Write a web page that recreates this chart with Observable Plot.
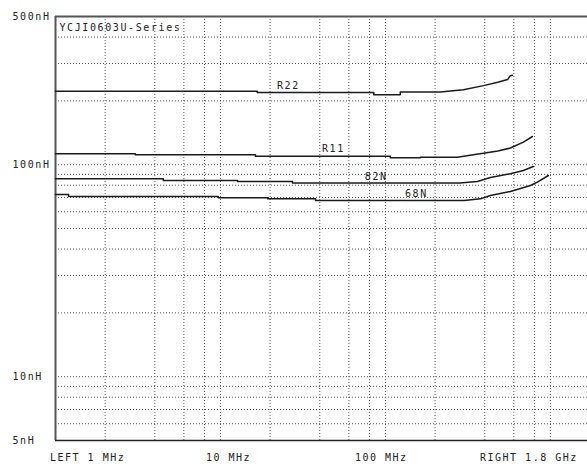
<!DOCTYPE html>
<html>
<head>
<meta charset="utf-8">
<script src="https://cdn.jsdelivr.net/npm/d3@7"></script>
<script src="https://cdn.jsdelivr.net/npm/@observablehq/plot@0.6"></script>
<style>
  body { margin: 0; background: #fff; }
  #wrap { position: relative; width: 587px; height: 466px; overflow: hidden; }
  .foot { position: absolute; top: 452px; font-family: "DejaVu Sans Mono", monospace; font-size: 10px; letter-spacing: 1.5px; color: #222; white-space: pre; }
</style>
</head>
<body>
<div id="wrap"></div>
<script>
// ---- data (frequency in MHz, inductance in nH) ----
const title = "YCJI0603U-Series";
const seriesNames = ["R22", "R11", "82N", "68N"];

const freqR22 = [1, 16.7, 16.7, 85, 85, 123, 123, 215, 297, 393, 480, 550, 572, 588];
const indR22  = [222, 222, 219, 219, 214, 214, 220, 220, 225.6, 236, 245, 252, 263, 264];

const freqR11 = [1, 3.05, 3.05, 16.3, 16.3, 107, 107, 163, 163, 273, 341, 393, 480, 572, 686, 778];
const indR11  = [112.5, 112.5, 111.4, 111.4, 109.6, 109.6, 107.8, 107.8, 108.5, 108.5, 111.4, 113.3, 116, 119.8, 127.7, 135.8];

const freq82N = [1, 4.5, 4.5, 12.7, 12.7, 27.3, 27.3, 283, 361, 433, 572, 686, 788];
const ind82N  = [85.8, 85.8, 84.2, 84.2, 83.3, 83.3, 82, 82, 83.3, 87.0, 90.6, 93.9, 98.0];

const freq68N = [1, 1.2, 1.2, 9.7, 9.7, 19.3, 19.3, 37.7, 37.7, 300, 377, 433, 572, 757, 834, 972];
const ind68N  = [72.3, 72.3, 70.8, 70.8, 69.8, 69.8, 69.0, 69.0, 67.8, 67.8, 69.0, 71.6, 74.7, 79.8, 82.7, 88.9];

// label anchor points for each curve name
const labelFreq = [25.8, 48.4, 88, 154];
const labelInd  = [224, 113, 83.5, 69.5];

const xGrid = [2, 4, 6, 8, 10, 20, 40, 60, 80, 100, 200, 400, 600, 800, 1000];
const yGrid = [6, 7, 8, 9, 10, 20, 30, 40, 50, 60, 70, 80, 90, 100, 200, 300, 400];
const yTicks = [5, 10, 100, 500];
const footLabels = ["LEFT 1 MHz", "10 MHz", "100 MHz", "RIGHT 1.8 GHz"];

// ---- build table ----
const freqs = [freqR22, freqR11, freq82N, freq68N];
const inds = [indR22, indR11, ind82N, ind68N];
const rows = [];
seriesNames.forEach((name, i) => {
  freqs[i].forEach((f, j) => rows.push({series: name, f, L: inds[i][j]}));
});
const labels = seriesNames.map((name, i) => ({name, f: labelFreq[i], L: labelInd[i]}));

const font = "'DejaVu Sans Mono', monospace";

const chart = Plot.plot({
  width: 587,
  height: 466,
  marginLeft: 55,
  marginRight: 0,
  marginTop: 16,
  marginBottom: 26,
  style: {fontFamily: font, fontSize: "10px", letterSpacing: "1.6px", color: "#222", background: "#fff", overflow: "visible"},
  x: {type: "log", domain: [1, 1800], range: [55, 592], axis: null},
  y: {type: "log", domain: [5, 500], axis: null},
  marks: [
    Plot.ruleX(xGrid, {stroke: "#555", strokeWidth: 1, strokeDasharray: "1,2"}),
    Plot.ruleY(yGrid, {stroke: "#555", strokeWidth: 1, strokeDasharray: "1,2"}),
    Plot.axisY(yTicks, {
      tickSize: 0, tickPadding: 43, textAnchor: "start", label: null,
      tickFormat: d => d + "nH", fontSize: 10
    }),
    Plot.ruleX([1], {stroke: "#555", strokeWidth: 2}),
    Plot.ruleY([500], {stroke: "#555", strokeWidth: 2}),
    Plot.ruleY([5], {stroke: "#222", strokeWidth: 1.5}),
    Plot.line(rows, {x: "f", y: "L", z: "series", stroke: "#1a1a1a", strokeWidth: 1.5}),
    Plot.text(labels, {x: "f", y: "L", text: "name", textAnchor: "middle", lineAnchor: "bottom", dy: -1, fill: "#222", fontSize: 10}),
    Plot.text([title], {frameAnchor: "top-left", dx: 4, dy: 7, fill: "#222", fontSize: 10, lineAnchor: "top", letterSpacing: "2.3px"})
  ]
});

const wrap = document.getElementById("wrap");
wrap.appendChild(chart);
const footLeft = [50, 206, 355, 480];
footLabels.forEach((t, i) => {
  const s = document.createElement("span");
  s.className = "foot";
  s.style.left = footLeft[i] + "px";
  s.textContent = t;
  wrap.appendChild(s);
});
</script>
</body>
</html>
